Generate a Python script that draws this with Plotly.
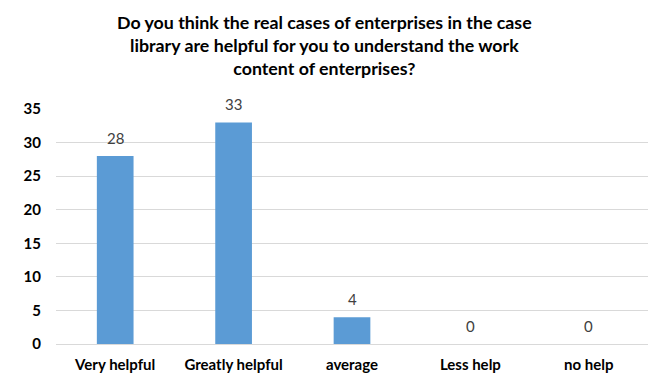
import plotly.graph_objects as go

categories = ["Very helpful", "Greatly helpful", "average", "Less help", "no help"]
values = [28, 33, 4, 0, 0]
y_ticks = [0, 5, 10, 15, 20, 25, 30, 35]
title_text = ("Do you think the real cases of enterprises in the case<br>"
              "library are helpful for you to understand the work<br>"
              "content of enterprises?")

L, R, T, B = 56, 1, 109, 30
W, H = 649, 374
pw, ph = W - L - R, H - T - B

fig = go.Figure(go.Bar(
    x=categories, y=values,
    marker=dict(color="#5B9BD5", line=dict(width=0)),
    width=0.31, hoverinfo="x+y",
))

for c, v in zip(categories, values):
    fig.add_annotation(x=c, y=v, text=str(v), showarrow=False,
                       yanchor="middle", yshift=18,
                       font=dict(family="Lato", size=15, color="#404040"))

fig.add_annotation(
    text="<b>" + title_text + "</b>", xref="paper", yref="paper",
    x=(W / 2 - L) / pw, y=1 + 100 / ph, xanchor="center", yanchor="top",
    showarrow=False, align="center",
    font=dict(family="Lato", size=17.8, color="#000000"),
)

fig.update_layout(
    width=W, height=H,
    margin=dict(l=L, r=R, t=T, b=B, autoexpand=False),
    paper_bgcolor="white", plot_bgcolor="white",
    showlegend=False,
)
fig.update_yaxes(
    range=[0, 35], tickvals=y_ticks, showgrid=True, gridcolor="#D9D9D9", gridwidth=1,
    zeroline=False, showline=False, automargin=False,
    tickfont=dict(family="Lato", size=15, color="#000000", weight="bold"),
    ticks="", ticklabelstandoff=14,
)
fig.update_xaxes(
    showline=True, linecolor="#D9D9D9", linewidth=1, ticks="", automargin=False,
    tickfont=dict(family="Lato", size=15, color="#000000", weight="bold"),
    ticklabelstandoff=7,
)
fig.write_html("out.html", config={"displayModeBar": False},
               post_script="document.body.style.margin='0';document.body.style.overflow='hidden';")
